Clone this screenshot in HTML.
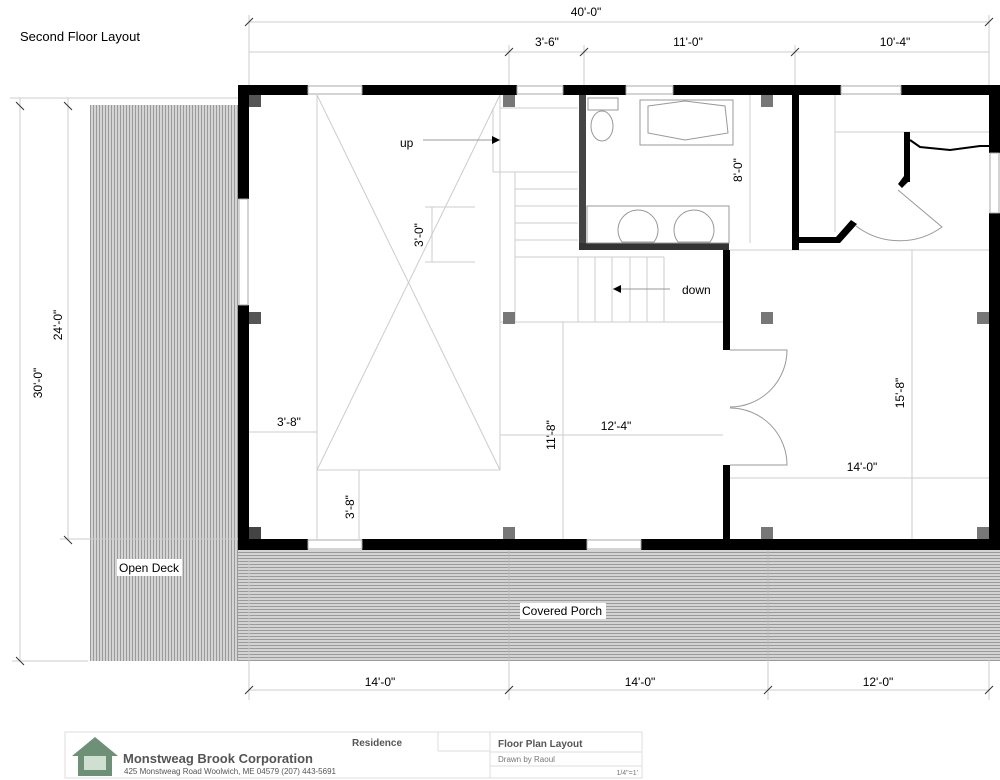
<!DOCTYPE html>
<html><head><meta charset="utf-8"><style>
html,body{margin:0;padding:0;background:#fff;}
svg{display:block;font-family:"Liberation Sans",sans-serif;}
</style></head><body>
<svg width="1000" height="780" viewBox="0 0 1000 780" xmlns="http://www.w3.org/2000/svg">
<defs>
<pattern id="vs" width="3" height="10" patternUnits="userSpaceOnUse"><rect width="3" height="10" fill="#d4d4d4"/><rect width="1" height="10" fill="#9a9a9a"/></pattern>
<pattern id="hs" width="10" height="3" patternUnits="userSpaceOnUse"><rect width="10" height="3" fill="#d4d4d4"/><rect width="10" height="1" fill="#9a9a9a"/></pattern>
</defs>
<rect width="1000" height="780" fill="#fff"/>
<text x="20" y="41" font-size="13">Second Floor Layout</text>

<!-- decks -->
<rect x="90" y="105" width="148" height="556" fill="url(#vs)"/>
<rect x="238" y="550" width="762" height="111" fill="url(#hs)"/>
<line x1="509" y1="550" x2="509" y2="661" stroke="#bbb"/>
<line x1="768" y1="550" x2="768" y2="661" stroke="#bbb"/>
<rect x="117" y="559" width="65" height="17" fill="#fff"/>
<text x="119" y="572" font-size="12">Open Deck</text>
<rect x="520" y="603" width="86" height="16" fill="#fff"/>
<text x="522" y="615" font-size="12">Covered Porch</text>

<!-- dimension lines -->
<g stroke="#ccc" stroke-width="1" fill="none">
<line x1="249" y1="22" x2="989" y2="22"/>
<line x1="249" y1="52" x2="989" y2="52"/>
<line x1="249" y1="15" x2="249" y2="85"/><line x1="989" y1="15" x2="989" y2="85"/>
<line x1="509" y1="45" x2="509" y2="85"/><line x1="584" y1="45" x2="584" y2="85"/><line x1="795" y1="45" x2="795" y2="85"/>
<line x1="249" y1="690" x2="989" y2="690"/>
<line x1="249" y1="560" x2="249" y2="700"/><line x1="509" y1="660" x2="509" y2="700"/><line x1="768" y1="660" x2="768" y2="700"/><line x1="989" y1="660" x2="989" y2="700"/>
<line x1="20" y1="98" x2="20" y2="661"/><line x1="68" y1="98" x2="68" y2="540"/>
<line x1="10" y1="98" x2="238" y2="98"/><line x1="12" y1="661" x2="88" y2="661"/><line x1="60" y1="539" x2="238" y2="539"/>
<!-- interior light lines -->
<line x1="317" y1="95" x2="317" y2="539"/>
<line x1="500" y1="95" x2="500" y2="470"/>
<line x1="317" y1="470" x2="500" y2="470"/>
<line x1="249" y1="432" x2="317" y2="432"/>
<line x1="359" y1="470" x2="359" y2="539"/>
<line x1="500" y1="435" x2="723" y2="435"/>
<line x1="563" y1="322" x2="563" y2="539"/>
<line x1="500" y1="322" x2="723" y2="322"/>
<line x1="730" y1="478" x2="989" y2="478"/>
<line x1="912" y1="250" x2="912" y2="539"/>
<line x1="750" y1="95" x2="750" y2="243"/>
<line x1="835" y1="95" x2="835" y2="232"/>
<line x1="835" y1="132" x2="989" y2="132"/>
<line x1="500" y1="108" x2="578" y2="108"/>
<line x1="493" y1="108" x2="493" y2="172"/><line x1="493" y1="172" x2="578" y2="172"/>
<line x1="515" y1="189" x2="578" y2="189"/><line x1="515" y1="206" x2="578" y2="206"/><line x1="515" y1="223" x2="578" y2="223"/><line x1="515" y1="240" x2="578" y2="240"/>
<line x1="515" y1="172" x2="515" y2="322"/><line x1="515" y1="257" x2="578" y2="257"/>
<line x1="578" y1="257" x2="578" y2="322"/>
<line x1="595" y1="257" x2="595" y2="322"/><line x1="612" y1="257" x2="612" y2="322"/><line x1="630" y1="257" x2="630" y2="322"/><line x1="647" y1="257" x2="647" y2="322"/><line x1="664" y1="257" x2="664" y2="322"/>
<line x1="578" y1="257" x2="664" y2="257"/>
<line x1="432" y1="207" x2="432" y2="262"/><line x1="425" y1="207" x2="475" y2="207"/><line x1="425" y1="262" x2="475" y2="262"/>
<line x1="730" y1="250" x2="989" y2="250"/>
</g>
<!-- X over open area -->
<g stroke="#ccc" fill="none">
<line x1="317" y1="95" x2="500" y2="470"/>
<line x1="500" y1="95" x2="317" y2="470"/>
</g>
<!-- ticks -->
<g stroke="#333" stroke-width="1">
<path d="M245 26l8-8M985 26l8-8M505 56l8-8M580 56l8-8M791 56l8-8M245 694l8-8M505 694l8-8M764 694l8-8M985 694l8-8M16 102l8 8M16 657l8 8M64 102l8 8M64 536l8 8"/>
</g>

<!-- walls -->
<g fill="#000">
<rect x="238" y="85" width="70" height="10"/>
<rect x="362" y="85" width="155" height="10"/>
<rect x="563" y="85" width="63" height="10"/>
<rect x="673" y="85" width="168" height="10"/>
<rect x="901" y="85" width="99" height="10"/>
<rect x="238" y="85" width="11" height="114"/>
<rect x="238" y="305" width="11" height="245"/>
<rect x="238" y="539" width="70" height="11"/>
<rect x="362" y="539" width="225" height="11"/>
<rect x="641" y="539" width="359" height="11"/>
<rect x="989" y="85" width="11" height="68"/>
<rect x="989" y="213" width="11" height="337"/>
<rect x="723" y="250" width="7" height="100"/>
<rect x="723" y="465" width="7" height="85"/>
<rect x="792" y="95" width="7" height="155"/>
<polygon points="792,243 840,243 857,224 851,220 836,237 792,237"/>
<rect x="904" y="132" width="6" height="50"/>
<polygon points="904,176 910,180 902,188 898,184"/>
</g>
<rect x="579" y="95" width="7" height="154" fill="#444"/>
<rect x="579" y="243" width="150" height="7" fill="#333"/>
<!-- closet rod -->
<polyline points="910,140 920,147 950,150 980,146 989,146" stroke="#000" stroke-width="2" fill="none"/>
<!-- windows -->
<g fill="#fff" stroke="#aaa" stroke-width="1">
<rect x="308" y="86" width="54" height="8"/><rect x="517" y="86" width="46" height="8"/><rect x="626" y="86" width="47" height="8"/><rect x="841" y="86" width="60" height="8"/>
<rect x="239" y="199" width="9" height="106"/><rect x="990" y="153" width="9" height="60"/>
<rect x="308" y="540" width="54" height="9"/><rect x="587" y="540" width="54" height="9"/>
</g>
<!-- posts -->
<g fill="#777">
<rect x="249" y="95" width="12" height="12" fill="#555"/><rect x="503" y="95" width="12" height="12"/><rect x="761" y="95" width="12" height="12"/>
<rect x="249" y="312" width="12" height="12" fill="#555"/><rect x="503" y="312" width="12" height="12"/><rect x="761" y="312" width="12" height="12"/><rect x="977" y="312" width="12" height="12"/>
<rect x="249" y="527" width="12" height="12" fill="#444"/><rect x="503" y="527" width="12" height="12"/><rect x="761" y="527" width="12" height="12"/><rect x="977" y="527" width="12" height="12"/>
</g>
<!-- bathroom fixtures -->
<g fill="#fff" stroke="#999" stroke-width="1">
<rect x="588" y="98" width="30" height="12"/>
<ellipse cx="602" cy="126" rx="11" ry="15"/>
<rect x="640" y="100" width="93" height="45"/>
<path d="M648 106 L685 101 L725 106 L728 133 L685 140 L648 133 Z"/>
<rect x="587" y="206" width="142" height="37"/>
<path d="M622 242 a20 20 0 1 1 32 0 Z"/><path d="M678 242 a20 20 0 1 1 32 0 Z"/>
</g>
<!-- doors -->
<g fill="none" stroke="#999" stroke-width="1">
<path d="M730 350 L787 350 A57 57 0 0 1 730 407"/>
<path d="M730 408 A57 57 0 0 1 787 465 L730 465"/>
<path d="M898 190 L942 227 A72 72 0 0 1 856 226"/>
</g>
<!-- arrows -->
<line x1="423" y1="140" x2="500" y2="140" stroke="#999"/>
<polygon points="500,140 492,136 492,144" fill="#000"/>
<line x1="613" y1="289" x2="670" y2="289" stroke="#999"/>
<polygon points="613,289 621,285 621,293" fill="#000"/>
<text x="400" y="147" font-size="12">up</text>
<text x="682" y="294" font-size="12">down</text>

<!-- dimension texts -->
<g font-size="12" fill="#000">
<text x="586" y="16" text-anchor="middle">40'-0"</text>
<text x="547" y="46" text-anchor="middle">3'-6"</text>
<text x="688" y="46" text-anchor="middle">11'-0"</text>
<text x="895" y="46" text-anchor="middle">10'-4"</text>
<text x="380" y="686" text-anchor="middle">14'-0"</text>
<text x="640" y="686" text-anchor="middle">14'-0"</text>
<text x="878" y="686" text-anchor="middle">12'-0"</text>
<text x="289" y="426" text-anchor="middle">3'-8"</text>
<text x="616" y="430" text-anchor="middle">12'-4"</text>
<text x="862" y="471" text-anchor="middle">14'-0"</text>
<text transform="translate(42,383) rotate(-90)" text-anchor="middle">30'-0"</text>
<text transform="translate(62,325) rotate(-90)" text-anchor="middle">24'-0"</text>
<text transform="translate(423,235) rotate(-90)" text-anchor="middle">3'-0"</text>
<text transform="translate(742,170) rotate(-90)" text-anchor="middle">8'-0"</text>
<text transform="translate(555,435) rotate(-90)" text-anchor="middle">11'-8"</text>
<text transform="translate(904,393) rotate(-90)" text-anchor="middle">15'-8"</text>
<text transform="translate(354,507) rotate(-90)" text-anchor="middle">3'-8"</text>
</g>

<!-- title block -->
<g stroke="#ddd" fill="none">
<rect x="65" y="732" width="577" height="46"/>
<line x1="438" y1="751" x2="438" y2="732"/>
<line x1="438" y1="751" x2="490" y2="751"/>
<line x1="490" y1="732" x2="490" y2="778"/>
<line x1="490" y1="752" x2="642" y2="752"/>
<line x1="490" y1="766" x2="642" y2="766"/>
</g>
<polygon points="72,756 95,737 118,756" fill="#6d9077"/>
<rect x="78" y="752" width="34" height="24" fill="#6d9077"/>
<rect x="84" y="756" width="22" height="14" fill="#cfe0d3"/>
<text x="123" y="763" font-size="13" font-weight="bold" fill="#555">Monstweag Brook Corporation</text>
<text x="124" y="774" font-size="8" fill="#555">425 Monstweag Road  Woolwich, ME 04579      (207) 443-5691</text>
<text x="352" y="746" font-size="10" font-weight="bold" fill="#555">Residence</text>
<text x="498" y="747" font-size="10" font-weight="bold" fill="#555">Floor Plan Layout</text>
<text x="498" y="762" font-size="8" fill="#777">Drawn by Raoul</text>
<text x="638" y="775" font-size="7" fill="#777" text-anchor="end">1/4"=1'</text>
</svg>
</body></html>
